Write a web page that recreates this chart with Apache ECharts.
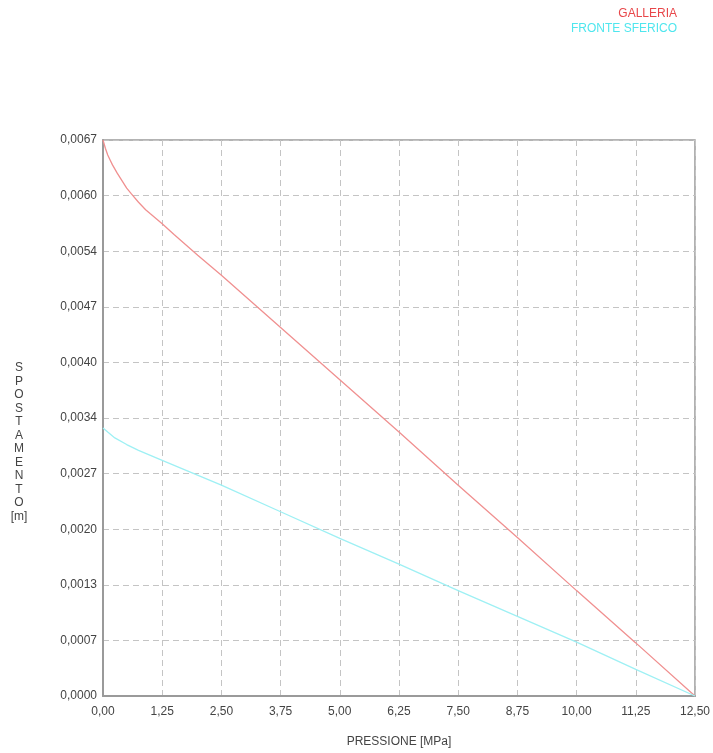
<!DOCTYPE html>
<html>
<head>
<meta charset="utf-8">
<script src="https://cdn.jsdelivr.net/npm/echarts@6/dist/echarts.min.js"></script>
<style>html,body{margin:0;padding:0;background:#fff}#c{width:713px;height:753px}</style>
</head>
<body>
<div id="c"></div>
<script>
const galleriaX = [0, 0.05, 0.1, 0.15, 0.2, 0.3, 0.4, 0.5, 0.6, 0.75, 0.9, 1.0, 1.25, 1.5, 2.0, 2.5, 3.75, 5.0, 6.25, 7.5, 8.75, 10.0, 11.25, 12.5];
const galleriaY = [0.00670, 0.00660, 0.00652, 0.00646, 0.00640, 0.00630, 0.00621, 0.00612, 0.00605, 0.00595, 0.00586, 0.00581, 0.00569, 0.00556, 0.00531, 0.00507, 0.00444, 0.00381, 0.00318, 0.00254, 0.00191, 0.00127, 0.00064, 0];
const fronteX = [0, 0.1, 0.25, 0.5, 0.75, 1.0, 1.25, 2.5, 3.75, 5.0, 6.25, 7.5, 8.75, 10.0, 11.25, 12.5];
const fronteY = [0.00323, 0.00318, 0.00311, 0.00303, 0.00296, 0.00290, 0.00284, 0.00254, 0.00222, 0.00190, 0.00159, 0.00127, 0.00096, 0.00065, 0.00032, 0];
const seriesNames = ['GALLERIA', 'FRONTE SFERICO'];
const xAxisTitle = 'PRESSIONE [MPa]';
const yAxisTitle = 'S\nP\nO\nS\nT\nA\nM\nE\nN\nT\nO\n[m]';

const zip = (a, b) => a.map((v, i) => [v, b[i]]);
const chart = echarts.init(document.getElementById('c'));
const font = 'Arial, "Liberation Sans", sans-serif';
chart.setOption({
  animation: false,
  textStyle: { fontFamily: font },
  legend: [
    { data: [{ name: seriesNames[0], textStyle: { color: '#e8474a' } }], right: 31, top: 2, icon: 'none', itemWidth: 0, itemGap: 0, textStyle: { fontSize: 12, fontFamily: font }, selectedMode: false },
    { data: [{ name: seriesNames[1], textStyle: { color: '#4fe6ee' } }], right: 31, top: 17, icon: 'none', itemWidth: 0, itemGap: 0, textStyle: { fontSize: 12, fontFamily: font }, selectedMode: false }
  ],
  graphic: [{
    type: 'text', x: 19, y: 361,
    style: { text: yAxisTitle, fill: '#444', fontSize: 12, fontFamily: font, lineHeight: 13.5, align: 'center', verticalAlign: 'top' }
  }],
  grid: { left: 103, right: 18, top: 140, bottom: 56, show: true, borderColor: '#9a9a9a', borderWidth: 1.5 },
  xAxis: {
    type: 'value', min: 0, max: 12.5, interval: 1.25,
    name: xAxisTitle, nameLocation: 'middle', nameGap: 40,
    nameTextStyle: { color: '#444', fontSize: 12 },
    axisLine: { show: true, lineStyle: { color: '#9a9a9a', width: 2 } },
    axisTick: { show: false },
    axisLabel: { color: '#444', fontSize: 12, margin: 10, formatter: v => v.toFixed(2).replace('.', ',') },
    splitLine: { show: true, lineStyle: { color: '#c4c4c4', type: [6, 4], width: 1 } }
  },
  yAxis: {
    type: 'value', min: 0, max: 0.0067, interval: 0.00067,
    axisLine: { show: true, lineStyle: { color: '#9a9a9a', width: 2 } },
    axisTick: { show: false },
    axisLabel: { color: '#444', fontSize: 12, margin: 6, formatter: v => v.toFixed(4).replace('.', ',') },
    splitLine: { show: true, lineStyle: { color: '#c4c4c4', type: [6, 4], width: 1 } }
  },
  series: [
    { name: seriesNames[0], type: 'line', data: zip(galleriaX, galleriaY), smooth: false, showSymbol: false, symbol: 'none', lineStyle: { color: '#f09090', width: 1.3 }, itemStyle: { color: '#e8474a' } },
    { name: seriesNames[1], type: 'line', data: zip(fronteX, fronteY), smooth: false, showSymbol: false, symbol: 'none', lineStyle: { color: '#9ef0f4', width: 1.3 }, itemStyle: { color: '#4fe6ee' } }
  ]
});
</script>
</body>
</html>
